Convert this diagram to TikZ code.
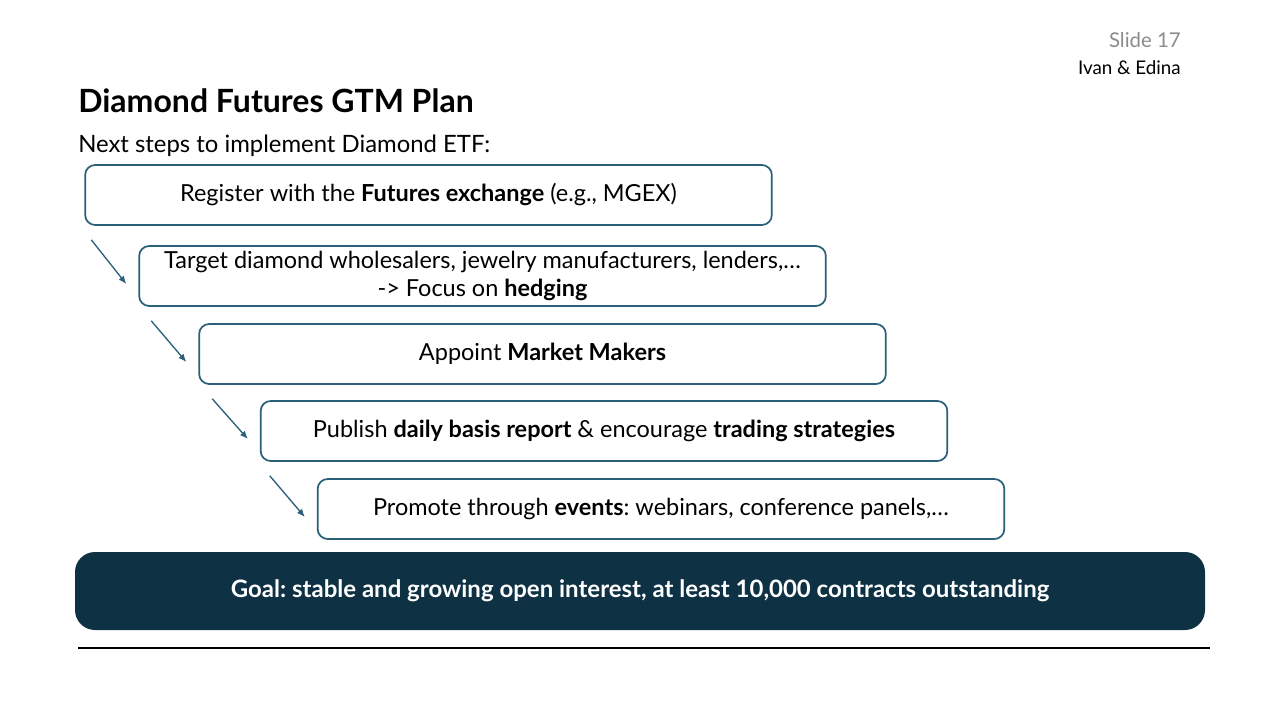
\documentclass[tikz,border=0pt]{standalone}
\usepackage{fontspec}
\setmainfont{Lato}
\frenchspacing
\usetikzlibrary{calc,positioning,arrows.meta}
\definecolor{stepblue}{HTML}{2A6079}
\definecolor{goalblue}{HTML}{0E3144}
\tikzset{
    stepbox/.style={draw=stepblue, line width=1.3pt, rounded corners=7.5pt,
        minimum width=515pt, minimum height=45pt, inner sep=0pt, align=center,
        font=\fontsize{17.6}{21}\selectfont},
    steparrow/.style={-{Latex[length=6pt,width=5pt]}, stepblue, line width=1pt}
}
\begin{document}
\begin{tikzpicture}[x=0.75pt, y=-0.75pt]
    \useasboundingbox (0,0) rectangle (1280,720);
    \node[anchor=base east, inner sep=0pt, text=black!45, font=\fontsize{15.3}{17}\selectfont] (slide) at (1181,48) {Slide 17};
    \node[anchor=base east, inner sep=0pt, font=\fontsize{14.1}{16}\selectfont] (authors) at (1181,75) {Ivan \& Edina};
    \node[anchor=base west, inner sep=0pt, font=\fontsize{24}{28}\selectfont\bfseries] (title) at (78,113) {Diamond Futures GTM Plan};
    \node[anchor=base west, inner sep=0pt, font=\fontsize{17.9}{21}\selectfont] (subtitle) at (78,153) {Next steps to implement Diamond ETF:};
    % steps
    \node[stepbox] (s1) at (428.5,195) {Register with the \textbf{Futures exchange} (e.g., MGEX)};
    \node[stepbox] (s2) at (482.5,276) {Target diamond wholesalers, jewelry manufacturers, lenders,\dots\\-> Focus on \textbf{hedging}};
    \node[stepbox] (s3) at (542.5,354) {Appoint \textbf{Market Makers}};
    \node[stepbox] (s4) at (604,431) {Publish \textbf{daily basis report} \& encourage \textbf{trading strategies}};
    \node[stepbox] (s5) at (661,509) {Promote through \textbf{events}: webinars, conference panels,\dots};
    \foreach \a/\b/\dx in {s1/s2/7,s2/s3/13,s3/s4/14,s4/s5/10}{
        \coordinate (\a-out) at ($(\a.south west)+(\dx,14)$);
        \coordinate (\b-in) at ($(\b.west)+(-12,8)$);
        \draw[steparrow] (\a-out) -- (\b-in);
    }
    % goal
    \node[fill=goalblue, rounded corners=15pt, minimum width=847.5pt, minimum height=58.5pt,
        text=white, font=\fontsize{18}{21}\selectfont\bfseries] (goal) at (640,591)
        {Goal: stable and growing open interest, at least 10,000 contracts outstanding};
    \coordinate (rule-l) at (78,648);
    \coordinate (rule-r) at (1210,648);
    \draw[line width=1.5pt] (rule-l) -- (rule-r);
\end{tikzpicture}
\end{document}
